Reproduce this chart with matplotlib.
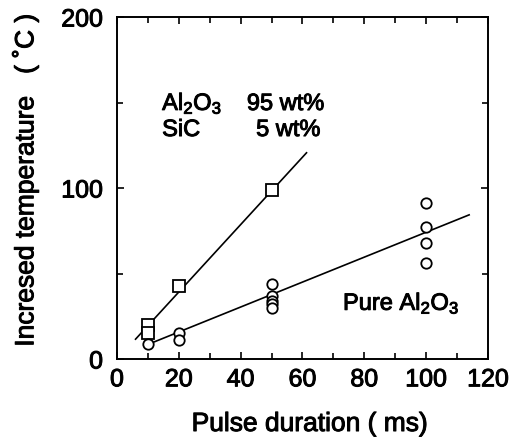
import matplotlib
matplotlib.use("Agg")
import matplotlib.pyplot as plt
import matplotlib.patheffects as pe
from matplotlib.ticker import MultipleLocator

plt.rcParams['font.family'] = ['Liberation Sans', 'DejaVu Sans']
plt.rcParams['mathtext.fontset'] = 'custom'
plt.rcParams['mathtext.rm'] = 'Liberation Sans'
plt.rcParams['mathtext.it'] = 'Liberation Sans'
plt.rcParams['mathtext.bf'] = 'Liberation Sans:bold'

# Data (Al2O3 95 wt% + SiC 5 wt%)
sic_x = [10, 10, 20, 50]
sic_y = [20, 15, 42.6, 98.6]
sic_fit_x = [6, 61.3]
sic_fit_y = [11.6, 120.6]

# Pure Al2O3
pure_x = [10, 20, 20, 50, 50, 50, 50, 50, 100, 100, 100, 100]
pure_y = [8.8, 15, 11, 44, 37, 34, 32, 30, 91, 77, 68, 56]
pure_fit_x = [9.7, 113.9]
pure_fit_y = [8.3, 84.3]

x_ticks = [0, 20, 40, 60, 80, 100, 120]
y_ticks = [0, 100, 200]

heavy = [pe.withStroke(linewidth=0.7, foreground='black')]

fig = plt.figure(figsize=(5.27, 4.43), dpi=100)
ax = fig.add_axes([0.222, 0.1896, 0.704, 0.772])

ax.plot(sic_fit_x, sic_fit_y, color='black', lw=1.2)
ax.plot(pure_fit_x, pure_fit_y, color='black', lw=1.2)
ax.plot(sic_x, sic_y, ls='none', marker='s', ms=8.5, mfc='white', mec='black', mew=1.3)
ax.plot(pure_x, pure_y, ls='none', marker='o', ms=7.5, mfc='white', mec='black', mew=1.3)

ax.set_xlim(0, 120)
ax.set_ylim(0, 200)
ax.set_xticks(x_ticks)
ax.set_yticks(y_ticks)
ax.xaxis.set_minor_locator(MultipleLocator(10))
ax.yaxis.set_minor_locator(MultipleLocator(50))
ax.tick_params(which='both', direction='in', top=True, right=True, width=1.2, labelsize=18)
ax.tick_params(which='major', length=5)
ax.tick_params(axis='x', which='major', pad=6)
ax.tick_params(axis='y', which='major', pad=10)
ax.tick_params(which='minor', length=4)
for s in ax.spines.values():
    s.set_linewidth(1.4)

ax.set_xlabel('Pulse duration ( ms)', fontsize=19, path_effects=heavy)
ax.set_ylabel('Incresed temperature   ( ˚C )', fontsize=19, path_effects=heavy)
ax.xaxis.set_label_coords(0.52, -0.155)
ax.yaxis.set_label_coords(-0.212, 0.523)
for lab in ax.get_xticklabels() + ax.get_yticklabels():
    lab.set_path_effects(heavy)

fs = 17
ax.text(14.6, 145.6, r'Al$_{2}$O$_{3}$', fontsize=fs, path_effects=heavy)
ax.text(42, 145.6, '95 wt%', fontsize=fs, path_effects=heavy)
ax.text(14.6, 130.4, 'SiC', fontsize=fs, path_effects=heavy)
ax.text(45, 130.4, '5 wt%', fontsize=fs, path_effects=heavy)
ax.text(73.1, 28.7, r'Pure Al$_{2}$O$_{3}$', fontsize=fs, path_effects=heavy)

fig.savefig('out.png', dpi=100)
